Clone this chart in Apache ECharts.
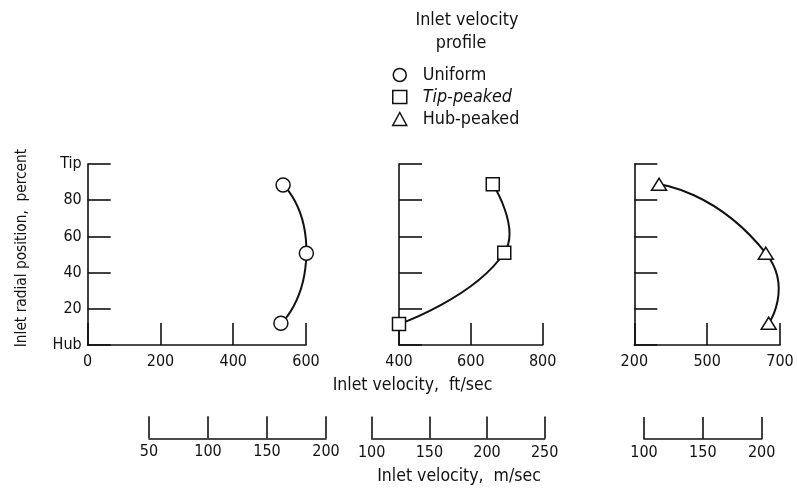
<!DOCTYPE html>
<html>
<head>
<meta charset="utf-8">
<script src="https://cdn.jsdelivr.net/npm/echarts@6/dist/echarts.min.js"></script>
<style>
html,body{margin:0;padding:0;background:#fff;}
#main{width:797px;height:490px;}
</style>
</head>
<body>
<div id="main"></div>
<script>
// ---- data ----
var seriesNames = ['Uniform', 'Tip-peaked', 'Hub-peaked'];
var uniformData = [[537, 88.4], [601, 50.7], [531, 12]];
var tipPeakedData = [[661, 88.8], [693, 51], [400, 11.6]];
var hubPeakedData = [[368, 88.8], [661, 50.7], [669, 12]];
var yTickLabels = ['Hub', '20', '40', '60', '80', 'Tip'];
var ftTicks1 = [0, 200, 400, 600];
var ftTicks2 = [400, 600, 800];
var ftTicks3Values = [300, 500, 700];
var ftTicks3Labels = ['200', '500', '700'];
var msTicks1 = [50, 100, 150, 200];
var msTicks2 = [100, 150, 200, 250];
var msTicks3 = [100, 150, 200];

// ---- font selection ----
var cv = document.createElement('canvas').getContext('2d');
function mw(txt, fam, size) { cv.font = size + 'px ' + fam; return cv.measureText(txt).width; }
function hasFont(name) {
  return mw('Inlet velocity 0123', "'" + name + "', monospace", 100) !== mw('Inlet velocity 0123', 'monospace', 100);
}
var FONT;
if (hasFont('Liberation Sans Narrow')) FONT = "'Liberation Sans Narrow'";
else if (hasFont('DejaVu Sans Condensed')) FONT = "'DejaVu Sans Condensed'";
else FONT = "'Liberation Sans'";
function fit(txt, target) { return Math.round(100 * target / mw(txt, FONT, 100) * 10) / 10; }
var FS = fit('Inlet velocity', 103);
var FS_TICK = Math.max(16, fit('600', 26));
var FS_YNAME = fit('Inlet radial position,  percent', 199);
var FS_XNAME = fit('Inlet velocity,  ft/sec', 160);
var BLACK = '#111';

var chart = echarts.init(document.getElementById('main'), null, {renderer: 'canvas'});

function yAxisCfg(gi, showLabel) {
  return {
    type: 'value', gridIndex: gi, min: 0, max: 100, interval: 20,
    axisLine: {show: true, lineStyle: {color: BLACK, width: 1.6}},
    axisTick: {show: true, inside: true, length: 23, lineStyle: {color: BLACK, width: 1.6}},
    splitLine: {show: false},
    axisLabel: {
      show: showLabel, margin: 6, color: BLACK, fontFamily: FONT, fontSize: FS_TICK,
      formatter: function (v) { return yTickLabels[Math.round(v / 20)]; }
    }
  };
}
function xAxisCfg(gi, min, max, interval, fmt, tickLen, margin) {
  return {
    type: 'value', gridIndex: gi, min: min, max: max, interval: interval,
    axisLine: {show: true, onZero: false, lineStyle: {color: BLACK, width: 1.6}},
    axisTick: {show: true, inside: true, length: tickLen, lineStyle: {color: BLACK, width: 1.6}},
    splitLine: {show: false},
    axisLabel: {show: true, margin: margin, color: BLACK, fontFamily: FONT, fontSize: FS_TICK, formatter: fmt,
      showMinLabel: true, showMaxLabel: true}
  };
}
function hiddenY(gi) {
  return {type: 'value', gridIndex: gi, min: 0, max: 1, show: false};
}

var symStyle = {color: '#fff', borderColor: BLACK, borderWidth: 1.5};

// faired curve through a series' points, drawn via the axes' coordinate system
function curveSeries(gi, data, name, smooth) {
  return {
    type: 'custom', name: name, xAxisIndex: gi, yAxisIndex: gi, data: data, clip: false, z: 2,
    encode: {x: 0, y: 1}, silent: true,
    renderItem: function (params, api) {
      if (params.dataIndex !== 0) return {type: 'group', children: []};
      var pts = data.map(function (d) { return api.coord(d); });
      return {type: 'polyline', shape: {points: pts, smooth: smooth},
        style: {stroke: BLACK, lineWidth: 2, fill: null}};
    }
  };
}
function markerSeries(gi, data, name, symbol, size) {
  return {name: name, type: 'line', xAxisIndex: gi, yAxisIndex: gi, data: data, clip: false,
    symbol: symbol, symbolSize: size, showAllSymbol: true,
    lineStyle: {width: 0, opacity: 0}, itemStyle: symStyle, color: BLACK, z: 3};
}

var option = {
  animation: false,
  backgroundColor: '#fff',
  textStyle: {fontFamily: FONT},
  grid: [
    {left: 87.7, top: 164, width: 218.3, height: 181},
    {left: 399, top: 164, width: 143.7, height: 181},
    {left: 634.3, top: 164, width: 145.7, height: 181},
    {left: 149, top: 437.3, width: 177, height: 1},
    {left: 371.7, top: 437.5, width: 173, height: 1},
    {left: 644, top: 438, width: 117.7, height: 1}
  ],
  xAxis: [
    xAxisCfg(0, ftTicks1[0], ftTicks1[ftTicks1.length - 1], 200, function (v) { return String(v); }, 22, 9),
    xAxisCfg(1, ftTicks2[0], ftTicks2[ftTicks2.length - 1], 200, function (v) { return String(v); }, 22, 9),
    xAxisCfg(2, ftTicks3Values[0], ftTicks3Values[ftTicks3Values.length - 1], 200, function (v) {
      var i = ftTicks3Values.indexOf(v); return i >= 0 ? ftTicks3Labels[i] : '';
    }, 22, 9),
    xAxisCfg(3, msTicks1[0], msTicks1[msTicks1.length - 1], 50, function (v) { return String(v); }, 22, 6),
    xAxisCfg(4, msTicks2[0], msTicks2[msTicks2.length - 1], 50, function (v) { return String(v); }, 22, 6),
    xAxisCfg(5, msTicks3[0], msTicks3[msTicks3.length - 1], 50, function (v) { return String(v); }, 22, 6)
  ],
  yAxis: [
    yAxisCfg(0, true), yAxisCfg(1, false), yAxisCfg(2, false),
    hiddenY(3), hiddenY(4), hiddenY(5)
  ],
  legend: {
    orient: 'vertical', left: 392, top: 66, padding: 0, itemGap: 4,
    itemWidth: 14, itemHeight: 13,
    textStyle: {fontFamily: FONT, fontSize: FS, color: BLACK, padding: [0, 0, 0, 11], lineHeight: 16},
    itemStyle: symStyle,
    data: [
      {name: seriesNames[0], icon: 'circle', itemStyle: symStyle},
      {name: seriesNames[1], icon: 'rect', itemStyle: symStyle, textStyle: {fontStyle: 'italic'}},
      {name: seriesNames[2], icon: 'triangle', itemStyle: symStyle}
    ]
  },
  graphic: [
    {type: 'text', x: 467, y: 20.5, style: {text: 'Inlet velocity', textAlign: 'center', textVerticalAlign: 'middle',
      font: FS + 'px ' + FONT, fill: BLACK}},
    {type: 'text', x: 461, y: 43.5, style: {text: 'profile', textAlign: 'center', textVerticalAlign: 'middle',
      font: FS + 'px ' + FONT, fill: BLACK}},
    {type: 'text', x: 412.5, y: 385, style: {text: 'Inlet velocity,  ft/sec', textAlign: 'center', textVerticalAlign: 'middle',
      font: FS_XNAME + 'px ' + FONT, fill: BLACK}},
    {type: 'text', x: 459, y: 476.5, style: {text: 'Inlet velocity,  m/sec', textAlign: 'center', textVerticalAlign: 'middle',
      font: FS_XNAME + 'px ' + FONT, fill: BLACK}},
    {type: 'text', x: 21.7, y: 248, rotation: Math.PI / 2, style: {text: 'Inlet radial position,  percent', textAlign: 'center',
      textVerticalAlign: 'middle', font: FS_YNAME + 'px ' + FONT, fill: BLACK}}
  ],
  series: [
    curveSeries(0, uniformData, seriesNames[0], 0.7),
    curveSeries(1, tipPeakedData, seriesNames[1], 0.5),
    curveSeries(2, hubPeakedData, seriesNames[2], 0.7),
    markerSeries(0, uniformData, seriesNames[0], 'circle', 14),
    markerSeries(1, tipPeakedData, seriesNames[1], 'rect', 13),
    markerSeries(2, hubPeakedData, seriesNames[2], 'triangle', [15, 12])
  ]
};
chart.setOption(option);
</script>
</body>
</html>
